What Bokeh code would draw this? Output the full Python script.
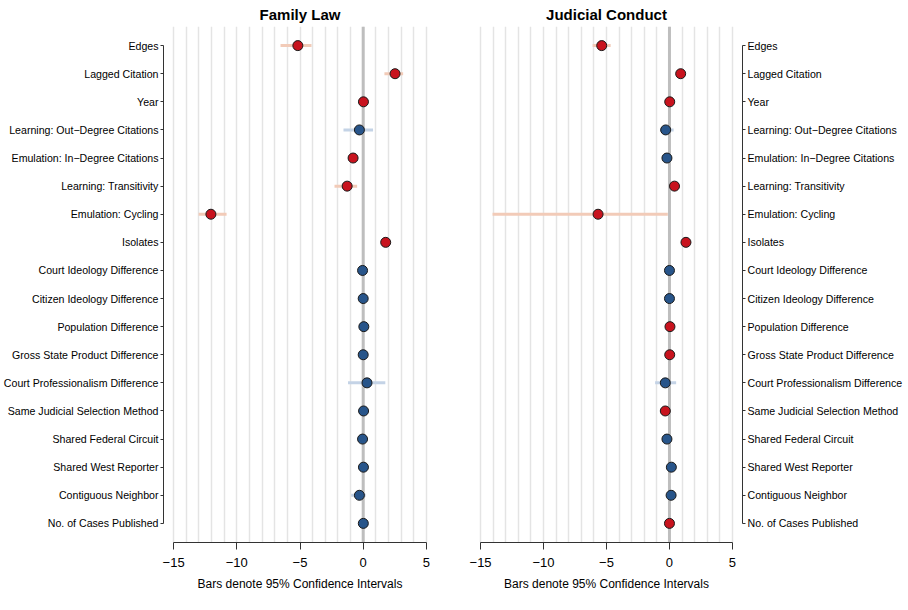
from bokeh.plotting import figure
from bokeh.layouts import row
from bokeh.models import Range1d, FixedTicker, Span, ColumnDataSource
from bokeh.embed import file_html
from bokeh.resources import INLINE

# ---------------- data ----------------
variables = [
    "Edges", "Lagged Citation", "Year", "Learning: Out\u2212Degree Citations",
    "Emulation: In\u2212Degree Citations", "Learning: Transitivity", "Emulation: Cycling",
    "Isolates", "Court Ideology Difference", "Citizen Ideology Difference",
    "Population Difference", "Gross State Product Difference",
    "Court Professionalism Difference", "Same Judicial Selection Method",
    "Shared Federal Circuit", "Shared West Reporter", "Contiguous Neighbor",
    "No. of Cases Published",
]

family_est = [-5.17, 2.52, 0.02, -0.30, -0.80, -1.27, -12.05, 1.78, -0.05, 0.0,
              0.05, 0.0, 0.30, 0.03, -0.05, 0.02, -0.30, 0.01]
family_lo = [-6.54, 1.68, 0.00, -1.56, -1.00, -2.27, -13.02, 1.60, -0.15, -0.10,
             -0.05, -0.10, -1.20, -0.10, -0.20, -0.10, -0.95, -0.10]
family_hi = [-4.09, 3.16, 0.05, 0.78, -0.60, -0.48, -10.81, 1.95, 0.05, 0.10,
             0.15, 0.10, 1.75, 0.15, 0.10, 0.15, 0.20, 0.10]
family_sig = [1, 1, 1, 0, 1, 1, 1, 1, 0, 0, 0, 0, 0, 0, 0, 0, 0, 0]

judicial_est = [-5.38, 0.89, 0.02, -0.30, -0.20, 0.40, -5.67, 1.31, 0.0, 0.0,
                0.04, 0.02, -0.33, -0.33, -0.20, 0.15, 0.13, 0.0]
judicial_lo = [-6.10, 0.75, 0.00, -0.75, -0.40, 0.25, -14.05, 1.15, -0.10, -0.10,
               0.01, 0.00, -1.14, -0.45, -0.35, -0.05, -0.05, 0.00]
judicial_hi = [-4.67, 1.05, 0.05, 0.33, 0.05, 0.55, -0.13, 1.45, 0.10, 0.10,
               0.08, 0.05, 0.53, -0.20, 0.05, 0.35, 0.30, 0.02]
judicial_sig = [1, 1, 1, 0, 0, 1, 1, 1, 0, 0, 1, 1, 0, 1, 0, 0, 0, 1]

x_ticks = [-15, -10, -5, 0, 5]
x_tick_labels = ["\u221215", "\u221210", "\u22125", "0", "5"]
panel_titles = ["Family Law", "Judicial Conduct"]
x_label = "Bars denote 95% Confidence Intervals"

# ---------------- style ----------------
FONT = "Liberation Sans"
RED, BLUE = "#C8131E", "#28558A"
RED_CI, BLUE_CI = "#F2CBB8", "#C4D3E6"
AXIS_COL = "#333333"
n = len(variables)
ypos = [n - i for i in range(n)]


def make_panel(title, est, lo, hi, sig, side):
    is_left = side == "left"
    p = figure(
        output_backend="svg", toolbar_location=None,
        frame_width=273 if is_left else 272, frame_height=516,
        x_range=Range1d(-15.8, 5.8), y_range=Range1d(0.32, n + 0.68),
        y_axis_location=side, tools="",
        min_border_left=158 if is_left else 18,
        min_border_right=16 if is_left else 158,
        min_border_top=19, min_border_bottom=56,
    )
    p.outline_line_color = None
    p.background_fill_color = "white"
    p.border_fill_color = "white"

    p.title.text = title
    p.title.align = "center"
    p.title.text_font = FONT
    p.title.text_font_size = "15px"
    p.title.text_font_style = "bold"
    p.title.text_color = "black"
    p.title.standoff = 7

    p.xgrid.ticker = FixedTicker(ticks=list(range(-15, 6)))
    p.xgrid.grid_line_color = "#E4E4E4"
    p.xgrid.grid_line_width = 1.5
    p.ygrid.visible = False

    zero = Span(location=0, dimension="height", line_color="#BEBEBE",
                line_width=3, level="underlay")
    p.add_layout(zero)

    src = ColumnDataSource(dict(
        y=ypos, est=est, lo=lo, hi=hi,
        col=[RED if s else BLUE for s in sig],
        cicol=[RED_CI if s else BLUE_CI for s in sig],
    ))
    p.segment(x0="lo", y0="y", x1="hi", y1="y", source=src,
              line_color="cicol", line_width=3)
    p.scatter(x="est", y="y", source=src, size=10, fill_color="col",
              line_color="#1A1A1A", line_width=1)

    # x axis
    xa = p.xaxis[0]
    xa.ticker = FixedTicker(ticks=x_ticks)
    xa.major_label_overrides = {t: l for t, l in zip(x_ticks, x_tick_labels)}
    xa.bounds = (x_ticks[0], x_ticks[-1])
    xa.minor_tick_line_color = None
    xa.major_tick_in = 0
    xa.major_tick_out = 7
    xa.major_label_standoff = 8
    xa.major_label_text_font = FONT
    xa.major_label_text_font_size = "13px"
    xa.major_label_text_color = "black"
    xa.axis_line_color = AXIS_COL
    xa.major_tick_line_color = AXIS_COL
    xa.axis_label = x_label
    xa.axis_label_text_font = FONT
    xa.axis_label_text_font_size = "12px"
    xa.axis_label_text_font_style = "normal"
    xa.axis_label_text_color = "black"
    xa.axis_label_standoff = 7

    # y axis
    ya = p.yaxis[0]
    ya.ticker = FixedTicker(ticks=ypos)
    ya.major_label_overrides = {yv: v for yv, v in zip(ypos, variables)}
    ya.bounds = (1, n)
    ya.minor_tick_line_color = None
    ya.major_tick_in = 0
    ya.major_tick_out = 3
    ya.major_label_standoff = 2
    ya.major_label_text_font = FONT
    ya.major_label_text_font_size = "10.6px"
    ya.major_label_text_color = "black"
    ya.axis_line_color = AXIS_COL
    ya.major_tick_line_color = AXIS_COL
    return p


left = make_panel(panel_titles[0], family_est, family_lo, family_hi, family_sig, "left")
right = make_panel(panel_titles[1], judicial_est, judicial_lo, judicial_hi, judicial_sig, "right")

layout = row(left, right)
open("out.html", "w").write(file_html(layout, INLINE))
